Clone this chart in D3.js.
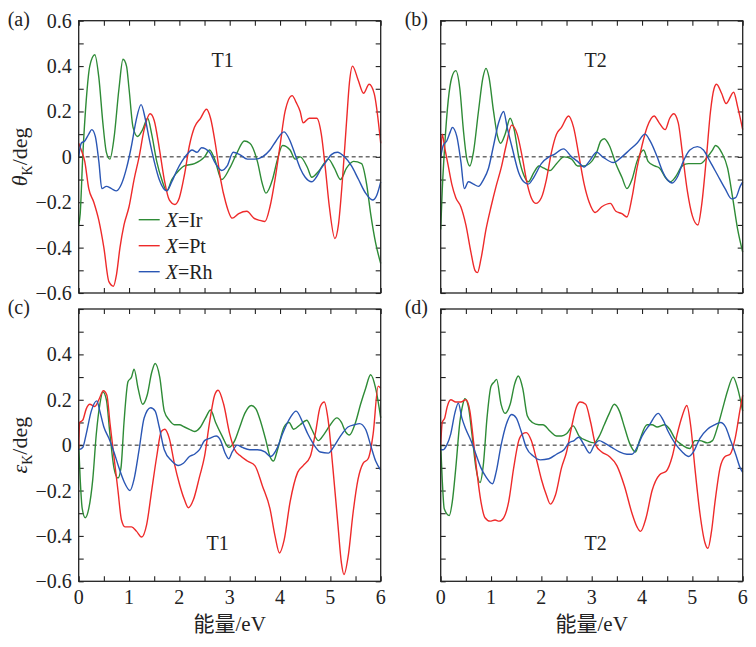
<!DOCTYPE html>
<html>
<head>
<meta charset="utf-8">
<script src="https://cdn.jsdelivr.net/npm/d3@7"></script>
<style>
  body { margin: 0; background: #fff; }
  text { font-family: "Liberation Serif", "Times New Roman", "Noto Sans CJK SC", serif; fill: #222; }
</style>
</head>
<body>
<div id="chart"></div>
<script>
// ---- data: [energy (eV), value (deg)] ----
var aIr = [[0,-0.30],[0.03,-0.25],[0.08,0.0],[0.15,0.25],[0.22,0.40],[0.32,0.45],[0.40,0.35],[0.48,0.15],[0.55,0.02],[0.62,-0.01],[0.70,0.08],[0.80,0.30],[0.88,0.43],[0.95,0.40],[1.00,0.30],[1.08,0.13],[1.17,0.09],[1.27,0.12],[1.37,0.17],[1.45,0.10],[1.55,-0.02],[1.65,-0.10],[1.75,-0.15],[1.85,-0.10],[1.95,-0.07],[2.10,-0.04],[2.30,-0.03],[2.50,0.00],[2.60,0.03],[2.70,-0.01],[2.84,-0.10],[3.00,-0.05],[3.15,0.02],[3.29,0.07],[3.40,0.06],[3.55,-0.02],[3.65,-0.12],[3.72,-0.16],[3.85,-0.10],[3.95,-0.01],[4.05,0.05],[4.20,0.03],[4.30,-0.01],[4.40,0.00],[4.55,-0.05],[4.63,-0.09],[4.78,-0.06],[4.96,-0.01],[5.08,-0.05],[5.20,-0.10],[5.32,-0.05],[5.46,-0.02],[5.62,-0.03],[5.72,-0.12],[5.80,-0.25],[5.90,-0.38],[6.00,-0.47]];
var aPt = [[0,0.06],[0.05,0.03],[0.12,-0.02],[0.20,-0.14],[0.30,-0.20],[0.40,-0.28],[0.50,-0.40],[0.60,-0.55],[0.69,-0.57],[0.75,-0.52],[0.82,-0.40],[0.90,-0.30],[1.00,-0.22],[1.10,-0.10],[1.20,0.00],[1.30,0.12],[1.42,0.19],[1.50,0.16],[1.60,0.04],[1.70,-0.10],[1.80,-0.19],[1.91,-0.21],[2.00,-0.18],[2.10,-0.08],[2.20,0.05],[2.30,0.13],[2.42,0.17],[2.54,0.21],[2.62,0.17],[2.72,0.05],[2.82,-0.10],[2.92,-0.20],[3.05,-0.27],[3.18,-0.25],[3.34,-0.24],[3.48,-0.27],[3.60,-0.28],[3.70,-0.285],[3.80,-0.22],[3.90,-0.10],[4.00,0.05],[4.10,0.20],[4.24,0.27],[4.32,0.24],[4.40,0.20],[4.46,0.15],[4.58,0.17],[4.73,0.17],[4.82,0.10],[4.90,-0.05],[4.98,-0.22],[5.09,-0.36],[5.16,-0.30],[5.24,-0.10],[5.32,0.15],[5.38,0.33],[5.44,0.40],[5.55,0.34],[5.66,0.28],[5.77,0.32],[5.87,0.28],[6.00,0.06]];
var aRh = [[0,0.00],[0.05,0.06],[0.12,0.07],[0.20,0.10],[0.26,0.12],[0.33,0.09],[0.40,-0.02],[0.46,-0.14],[0.55,-0.13],[0.65,-0.14],[0.75,-0.15],[0.85,-0.12],[0.95,-0.05],[1.05,0.05],[1.14,0.16],[1.24,0.23],[1.32,0.17],[1.40,0.08],[1.50,-0.02],[1.60,-0.10],[1.75,-0.15],[1.85,-0.11],[1.95,-0.06],[2.05,-0.02],[2.15,0.01],[2.25,0.03],[2.35,0.02],[2.44,0.04],[2.60,0.02],[2.72,-0.03],[2.84,-0.06],[2.95,-0.04],[3.07,0.02],[3.20,0.01],[3.35,-0.01],[3.50,-0.01],[3.65,0.00],[3.80,0.03],[3.92,0.07],[4.08,0.11],[4.20,0.07],[4.30,0.01],[4.40,-0.05],[4.50,-0.09],[4.63,-0.11],[4.72,-0.09],[4.82,-0.05],[4.92,-0.02],[5.02,0.01],[5.14,0.02],[5.28,0.00],[5.42,-0.04],[5.56,-0.10],[5.70,-0.16],[5.84,-0.19],[5.92,-0.17],[6.00,-0.11]];

var bIr = [[0,-0.32],[0.03,-0.15],[0.08,0.05],[0.15,0.25],[0.22,0.35],[0.30,0.38],[0.38,0.30],[0.45,0.12],[0.52,-0.01],[0.58,-0.04],[0.65,0.02],[0.75,0.20],[0.84,0.35],[0.90,0.39],[0.96,0.35],[1.05,0.20],[1.13,0.09],[1.19,0.06],[1.28,0.10],[1.38,0.17],[1.46,0.12],[1.55,0.00],[1.65,-0.08],[1.74,-0.11],[1.85,-0.07],[1.95,-0.04],[2.05,-0.05],[2.17,-0.06],[2.30,-0.03],[2.45,0.00],[2.60,-0.01],[2.72,-0.04],[2.84,-0.04],[3.00,-0.02],[3.10,0.02],[3.18,0.07],[3.25,0.08],[3.35,0.05],[3.48,-0.03],[3.60,-0.09],[3.70,-0.14],[3.80,-0.10],[3.90,-0.02],[4.03,0.03],[4.12,-0.02],[4.25,-0.04],[4.35,-0.05],[4.46,-0.09],[4.56,-0.11],[4.66,-0.09],[4.80,-0.04],[4.92,-0.03],[5.05,-0.03],[5.16,-0.03],[5.30,0.00],[5.40,0.03],[5.46,0.05],[5.58,0.02],[5.70,-0.05],[5.80,-0.18],[5.90,-0.32],[6.00,-0.42]];
var bPt = [[0,0.00],[0.03,0.10],[0.08,0.04],[0.15,-0.04],[0.22,-0.12],[0.30,-0.18],[0.40,-0.22],[0.50,-0.30],[0.60,-0.42],[0.68,-0.50],[0.73,-0.51],[0.80,-0.45],[0.90,-0.32],[1.00,-0.22],[1.10,-0.13],[1.20,-0.05],[1.30,0.05],[1.41,0.14],[1.52,0.10],[1.62,0.00],[1.72,-0.12],[1.82,-0.19],[1.89,-0.205],[2.00,-0.18],[2.10,-0.10],[2.20,0.02],[2.30,0.10],[2.40,0.13],[2.54,0.18],[2.64,0.13],[2.75,0.00],[2.85,-0.12],[2.95,-0.20],[3.07,-0.245],[3.20,-0.22],[3.37,-0.205],[3.48,-0.24],[3.60,-0.25],[3.70,-0.265],[3.80,-0.18],[3.90,-0.05],[4.00,0.05],[4.10,0.13],[4.24,0.18],[4.34,0.15],[4.46,0.12],[4.55,0.17],[4.63,0.19],[4.72,0.15],[4.80,0.02],[4.90,-0.15],[5.00,-0.26],[5.11,-0.30],[5.18,-0.22],[5.28,0.00],[5.36,0.20],[5.43,0.30],[5.48,0.32],[5.58,0.28],[5.67,0.235],[5.82,0.285],[5.90,0.22],[6.00,0.12]];
var bRh = [[0,0.00],[0.05,0.05],[0.12,0.07],[0.19,0.11],[0.23,0.13],[0.32,0.09],[0.40,-0.02],[0.47,-0.14],[0.55,-0.11],[0.65,-0.12],[0.75,-0.13],[0.85,-0.10],[0.95,-0.05],[1.05,0.05],[1.15,0.15],[1.25,0.20],[1.32,0.13],[1.42,0.04],[1.55,-0.07],[1.65,-0.11],[1.74,-0.12],[1.85,-0.09],[2.00,-0.03],[2.15,0.00],[2.25,0.01],[2.44,0.035],[2.60,0.00],[2.72,-0.02],[2.85,-0.045],[2.95,-0.02],[3.10,0.02],[3.22,0.00],[3.43,-0.025],[3.60,0.00],[3.75,0.03],[3.90,0.06],[4.06,0.10],[4.16,0.07],[4.30,0.00],[4.40,-0.06],[4.50,-0.10],[4.60,-0.115],[4.70,-0.09],[4.82,-0.02],[4.95,0.03],[5.10,0.045],[5.22,0.03],[5.35,-0.02],[5.50,-0.08],[5.65,-0.14],[5.78,-0.185],[5.86,-0.18],[5.95,-0.13],[6.00,-0.11]];

var cIr = [[0,0.00],[0.03,-0.15],[0.07,-0.28],[0.13,-0.32],[0.20,-0.28],[0.28,-0.15],[0.35,0.05],[0.42,0.18],[0.48,0.235],[0.55,0.20],[0.62,0.05],[0.70,-0.10],[0.78,-0.145],[0.84,-0.10],[0.90,0.10],[0.98,0.28],[1.05,0.30],[1.10,0.335],[1.18,0.25],[1.27,0.18],[1.36,0.22],[1.45,0.32],[1.52,0.36],[1.61,0.30],[1.70,0.15],[1.80,0.11],[1.90,0.09],[2.00,0.09],[2.10,0.08],[2.20,0.07],[2.30,0.06],[2.42,0.08],[2.52,0.12],[2.62,0.155],[2.72,0.10],[2.85,0.04],[2.98,-0.01],[3.10,0.02],[3.20,0.08],[3.30,0.14],[3.43,0.175],[3.52,0.16],[3.62,0.10],[3.72,0.02],[3.80,-0.05],[3.87,-0.07],[3.95,-0.02],[4.08,0.08],[4.18,0.10],[4.27,0.07],[4.40,0.09],[4.53,0.11],[4.63,0.07],[4.76,0.02],[4.88,0.05],[5.00,0.09],[5.13,0.12],[5.22,0.10],[5.30,0.06],[5.38,0.045],[5.50,0.10],[5.60,0.18],[5.70,0.25],[5.80,0.31],[5.90,0.25],[6.00,0.12]];
var cPt = [[0,-0.02],[0.02,0.10],[0.08,0.11],[0.15,0.16],[0.22,0.18],[0.32,0.17],[0.40,0.20],[0.49,0.24],[0.56,0.22],[0.62,0.10],[0.70,-0.05],[0.78,-0.20],[0.85,-0.33],[0.92,-0.36],[1.05,-0.36],[1.15,-0.38],[1.25,-0.405],[1.35,-0.35],[1.45,-0.20],[1.55,-0.05],[1.64,0.06],[1.71,0.07],[1.80,0.03],[1.90,-0.08],[2.00,-0.17],[2.10,-0.24],[2.18,-0.276],[2.28,-0.24],[2.40,-0.14],[2.50,-0.05],[2.60,0.10],[2.70,0.22],[2.77,0.242],[2.88,0.18],[3.00,0.05],[3.10,-0.02],[3.20,-0.045],[3.35,-0.07],[3.50,-0.09],[3.65,-0.18],[3.80,-0.28],[3.90,-0.40],[3.99,-0.475],[4.08,-0.42],[4.20,-0.25],[4.35,-0.12],[4.46,-0.09],[4.60,-0.05],[4.70,0.05],[4.80,0.17],[4.88,0.19],[4.95,0.12],[5.05,-0.10],[5.15,-0.35],[5.22,-0.52],[5.27,-0.57],[5.36,-0.48],[5.45,-0.30],[5.55,-0.15],[5.65,-0.08],[5.75,-0.06],[5.85,0.05],[5.95,0.26],[6.00,0.25]];
var cRh = [[0,-0.02],[0.08,-0.01],[0.15,0.05],[0.25,0.15],[0.36,0.195],[0.42,0.15],[0.50,0.08],[0.60,0.03],[0.70,-0.03],[0.80,-0.10],[0.90,-0.16],[1.02,-0.20],[1.10,-0.15],[1.20,-0.02],[1.30,0.12],[1.43,0.165],[1.52,0.15],[1.60,0.08],[1.70,-0.02],[1.85,-0.07],[1.98,-0.09],[2.08,-0.08],[2.20,-0.05],[2.30,-0.04],[2.40,-0.02],[2.50,0.02],[2.60,0.03],[2.73,0.04],[2.82,0.02],[2.90,-0.03],[2.98,-0.06],[3.05,-0.03],[3.15,0.00],[3.25,-0.01],[3.40,-0.02],[3.55,-0.02],[3.70,-0.03],[3.81,-0.05],[3.95,-0.01],[4.05,0.05],[4.20,0.12],[4.32,0.15],[4.45,0.10],[4.55,0.05],[4.65,0.01],[4.80,-0.03],[4.96,-0.035],[5.06,-0.01],[5.20,0.04],[5.35,0.08],[5.48,0.09],[5.58,0.095],[5.70,0.07],[5.80,0.00],[5.90,-0.07],[6.00,-0.11]];

var dIr = [[0,0.00],[0.03,-0.15],[0.07,-0.28],[0.17,-0.31],[0.23,-0.25],[0.30,-0.10],[0.38,0.10],[0.44,0.18],[0.48,0.205],[0.55,0.17],[0.62,0.05],[0.70,-0.10],[0.78,-0.165],[0.85,-0.08],[0.92,0.12],[1.00,0.26],[1.07,0.28],[1.11,0.29],[1.20,0.18],[1.28,0.14],[1.38,0.18],[1.47,0.27],[1.54,0.305],[1.63,0.25],[1.72,0.13],[1.82,0.10],[1.95,0.09],[2.03,0.09],[2.18,0.06],[2.30,0.04],[2.40,0.04],[2.50,0.05],[2.63,0.085],[2.75,0.04],[2.90,0.02],[3.05,0.01],[3.15,0.04],[3.25,0.09],[3.35,0.14],[3.45,0.18],[3.55,0.15],[3.65,0.08],[3.75,0.01],[3.87,-0.03],[3.95,0.02],[4.10,0.09],[4.20,0.09],[4.30,0.08],[4.45,0.09],[4.55,0.07],[4.65,0.03],[4.80,0.00],[4.95,-0.015],[5.05,0.02],[5.15,0.02],[5.30,0.01],[5.40,0.02],[5.50,0.08],[5.60,0.16],[5.70,0.24],[5.81,0.30],[5.90,0.25],[6.00,0.15]];
var dPt = [[0,0.00],[0.03,0.10],[0.08,0.12],[0.13,0.17],[0.20,0.20],[0.30,0.19],[0.40,0.19],[0.50,0.20],[0.58,0.15],[0.65,0.02],[0.72,-0.12],[0.80,-0.25],[0.88,-0.32],[0.98,-0.335],[1.08,-0.33],[1.16,-0.335],[1.25,-0.32],[1.35,-0.25],[1.45,-0.10],[1.55,0.02],[1.63,0.05],[1.70,0.055],[1.80,0.02],[1.90,-0.06],[2.00,-0.15],[2.10,-0.22],[2.18,-0.26],[2.28,-0.22],[2.40,-0.10],[2.50,-0.03],[2.60,0.08],[2.70,0.17],[2.77,0.19],[2.88,0.18],[2.98,0.10],[3.08,0.00],[3.20,-0.03],[3.35,-0.05],[3.50,-0.09],[3.65,-0.18],[3.80,-0.30],[3.90,-0.36],[3.97,-0.38],[4.08,-0.32],[4.20,-0.20],[4.35,-0.13],[4.48,-0.115],[4.60,-0.05],[4.70,0.05],[4.80,0.13],[4.89,0.175],[4.97,0.08],[5.05,-0.10],[5.15,-0.30],[5.25,-0.43],[5.31,-0.455],[5.38,-0.38],[5.45,-0.25],[5.55,-0.10],[5.65,-0.05],[5.75,-0.04],[5.85,0.03],[5.95,0.16],[6.00,0.22]];
var dRh = [[0,-0.02],[0.05,-0.02],[0.12,0.00],[0.20,0.05],[0.28,0.14],[0.35,0.185],[0.42,0.12],[0.50,0.07],[0.60,0.02],[0.70,-0.04],[0.80,-0.10],[0.90,-0.14],[1.03,-0.17],[1.10,-0.12],[1.20,0.00],[1.30,0.09],[1.41,0.135],[1.50,0.12],[1.60,0.06],[1.70,-0.01],[1.85,-0.05],[1.98,-0.065],[2.15,-0.06],[2.30,-0.04],[2.45,-0.02],[2.55,0.01],[2.65,0.02],[2.74,0.035],[2.85,0.00],[2.96,-0.035],[3.05,0.00],[3.15,0.02],[3.25,0.01],[3.40,-0.01],[3.55,-0.03],[3.70,-0.04],[3.80,-0.04],[3.90,-0.01],[4.00,0.04],[4.15,0.09],[4.32,0.14],[4.42,0.11],[4.52,0.06],[4.65,0.01],[4.80,-0.03],[4.93,-0.05],[5.02,-0.03],[5.15,0.03],[5.30,0.07],[5.45,0.09],[5.56,0.10],[5.66,0.08],[5.76,0.02],[5.86,-0.04],[5.95,-0.10],[6.00,-0.12]];

var seriesNames = ["Ir", "Pt", "Rh"];
var seriesColors = ["#2e8b36", "#ee2a2a", "#2a56b4"];
var xTicks = [0, 1, 2, 3, 4, 5, 6];
var yTicks = [-0.6, -0.4, -0.2, 0, 0.2, 0.4, 0.6];

var panels = [
  { tag: "(a)", title: "T1", sym: "θ", col: 0, row: 0, lines: [aIr, aPt, aRh] },
  { tag: "(b)", title: "T2", sym: "θ", col: 1, row: 0, lines: [bIr, bPt, bRh] },
  { tag: "(c)", title: "T1", sym: "ε", col: 0, row: 1, lines: [cIr, cPt, cRh] },
  { tag: "(d)", title: "T2", sym: "ε", col: 1, row: 1, lines: [dIr, dPt, dRh] }
];

// ---- layout ----
var W = 756, H = 647;
var colX = [78.7, 440.7], panelW = 302;
var rowY = [20.7, 309], panelH = 272.3;
var tickLen = 5;
var fs = 20;

var svg = d3.select("#chart").append("svg")
    .attr("width", W)
    .attr("height", H)
    .attr("font-family", "Liberation Serif, serif");

function fmt(v){
    if (Math.abs(v) < 1e-9) return "0";
    return (v < 0 ? "\u2212" : "") + Math.abs(v).toFixed(1);
}

panels.forEach(function(p){
    var x0 = colX[p.col], y0 = rowY[p.row];
    var g = svg.append("g").attr("transform", "translate(" + x0 + "," + y0 + ")");

    var x = d3.scaleLinear().domain([0, 6]).range([0, panelW]);
    var y = d3.scaleLinear().domain([-0.6, 0.6]).range([panelH, 0]);

    // inward ticks on all four sides
    var xt = d3.range(0, 6.01, 0.5), yt = d3.range(-0.6, 0.601, 0.1);
    g.append("g").call(d3.axisBottom(x).tickValues(xt).tickSize(tickLen).tickFormat(""))
        .attr("transform", "translate(0," + (panelH - tickLen) + ")");
    g.append("g").call(d3.axisTop(x).tickValues(xt).tickSize(-tickLen).tickFormat(""));
    g.append("g").call(d3.axisLeft(y).tickValues(yt).tickSize(-tickLen).tickFormat(""));
    g.append("g").call(d3.axisRight(y).tickValues(yt).tickSize(-tickLen).tickFormat(""))
        .attr("transform", "translate(" + panelW + ",0)");
    g.selectAll(".domain").remove();
    g.selectAll(".tick line").attr("stroke", "#222").attr("stroke-width", 1.1);

    // zero line
    g.append("line")
        .attr("x1", 0).attr("x2", panelW)
        .attr("y1", y(0)).attr("y2", y(0))
        .attr("stroke", "#222").attr("stroke-width", 1)
        .attr("stroke-dasharray", "4,3");

    var line = d3.line()
        .x(function(d){ return x(d[0]); })
        .y(function(d){ return y(d[1]); })
        .curve(d3.curveMonotoneX);

    p.lines.forEach(function(data, i){
        g.append("path")
            .datum(data)
            .attr("d", line)
            .attr("fill", "none")
            .attr("stroke", seriesColors[i])
            .attr("stroke-width", 1.4)
            .attr("stroke-linejoin", "round");
    });

    // frame
    g.append("rect")
        .attr("width", panelW).attr("height", panelH)
        .attr("fill", "none").attr("stroke", "#222").attr("stroke-width", 1.3);

    // y tick labels (left column only)
    if (p.col === 0) {
        g.selectAll(".ylab")
            .data(yTicks.filter(function(v){ return p.row === 0 || v < 0.59; }))
            .enter().append("text")
            .attr("x", -7)
            .attr("y", function(v){ return y(v); })
            .attr("dy", "0.35em")
            .attr("text-anchor", "end")
            .attr("font-size", fs)
            .text(fmt);

        var lab = g.append("text")
            .attr("transform", "translate(" + (x0 * -1 + 27) + "," + (panelH / 2) + ") rotate(-90)")
            .attr("text-anchor", "middle")
            .attr("font-size", 22);
        lab.append("tspan").attr("font-style", "italic").text(p.sym);
        lab.append("tspan").attr("font-size", 14).attr("dy", 5).text("K");
        lab.append("tspan").attr("dy", -5).text("/deg");
    }

    // x tick labels (bottom row only)
    if (p.row === 1) {
        g.selectAll(".xlab")
            .data(xTicks)
            .enter().append("text")
            .attr("x", function(v){ return x(v); })
            .attr("y", panelH + 23)
            .attr("text-anchor", "middle")
            .attr("font-size", fs)
            .text(function(v){ return v; });

        g.append("text")
            .attr("x", panelW / 2)
            .attr("y", panelH + 50)
            .attr("text-anchor", "middle")
            .attr("font-size", 21)
            .text("能量/eV");
    }

    // panel tag and title
    g.append("text")
        .attr("x", p.col === 0 ? -71 : -36)
        .attr("y", 5)
        .attr("font-size", fs)
        .text(p.tag);

    g.append("text")
        .attr("x", p.col === 0 ? (p.row === 0 ? 144 : 139) : 155)
        .attr("y", p.row === 0 ? 46 : 241)
        .attr("text-anchor", "middle")
        .attr("font-size", fs)
        .text(p.title);

    // legend in panel (a)
    if (p.tag === "(a)") {
        var leg = g.append("g").attr("transform", "translate(60,199)");
        seriesNames.forEach(function(n, i){
            var ry = i * 26;
            leg.append("line")
                .attr("x1", 0).attr("x2", 21)
                .attr("y1", ry).attr("y2", ry)
                .attr("stroke", seriesColors[i]).attr("stroke-width", 1.4);
            var t = leg.append("text")
                .attr("x", 27).attr("y", ry).attr("dy", "0.35em")
                .attr("font-size", fs);
            t.append("tspan").attr("font-style", "italic").text("X");
            t.append("tspan").text("=" + n);
        });
    }
});
</script>
</body>
</html>
